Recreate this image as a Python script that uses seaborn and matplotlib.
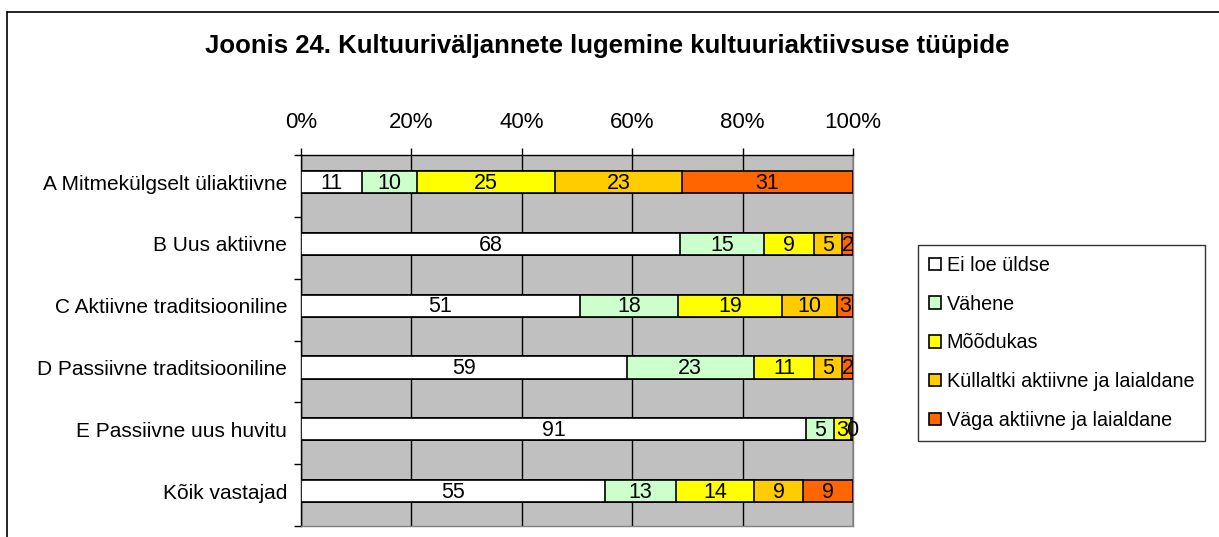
import numpy as np
import pandas as pd
import matplotlib
matplotlib.use("Agg")
import matplotlib.pyplot as plt
import seaborn as sns
from matplotlib.patches import Patch
from matplotlib.lines import Line2D
from matplotlib.ticker import FixedLocator

categories = ["A Mitmekülgselt üliaktiivne", "B Uus aktiivne", "C Aktiivne traditsiooniline",
              "D Passiivne traditsiooniline", "E Passiivne uus huvitu", "Kõik vastajad"]
ei_loe = [11, 68, 51, 59, 91, 55]
vahene = [10, 15, 18, 23, 5, 13]
moodukas = [25, 9, 19, 11, 3, 14]
kullaltki = [23, 5, 10, 5, 0.4, 9]
vaga = [31, 2, 3, 2, 0, 9]
series_names = ["Ei loe üldse", "Vähene", "Mõõdukas", "Küllaltki aktiivne ja laialdane", "Väga aktiivne ja laialdane"]
colors = ["#FFFFFF", "#CCFFCC", "#FFFF00", "#FFCC00", "#FF6600"]
xticks = [0, 20, 40, 60, 80, 100]
xticklabels = ["0%", "20%", "40%", "60%", "80%", "100%"]

sns.set_theme(style="white")
plt.rcParams["font.family"] = ["Liberation Sans", "DejaVu Sans"]
plt.rcParams["text.color"] = "black"
plt.rcParams["xtick.color"] = "black"
plt.rcParams["ytick.color"] = "black"
plt.rcParams["xtick.labelcolor"] = "black"
plt.rcParams["ytick.labelcolor"] = "black"

vals = np.array([ei_loe, vahene, moodukas, kullaltki, vaga], dtype=float)
pct = vals / vals.sum(axis=0) * 100
cum = np.cumsum(pct, axis=0)

fig = plt.figure(figsize=(12.19, 5.37), dpi=100)
ax = fig.add_axes([301/1219, 1-526/537, 552/1219, 371/537])
ax.set_facecolor("#C0C0C0")

for k in range(len(series_names) - 1, -1, -1):
    df = pd.DataFrame({"cat": categories, "v": cum[k]})
    sns.barplot(data=df, x="v", y="cat", orient="h", color=colors[k], width=0.36,
                edgecolor="black", linewidth=1.2, saturation=1, ax=ax, zorder=3)

# labels
for i in range(len(categories)):
    for k in range(len(series_names)):
        if vals[k, i] <= 0:
            continue
        left = cum[k, i] - pct[k, i]
        xc = left + pct[k, i] / 2
        ax.text(xc, i + 0.02, f"{vals[k, i]:.0f}", ha="center", va="center", fontsize=15.5,
                color="black", zorder=5)

ax.set_xlim(0, 100)
ax.set_ylim(5.563, -0.437)
ax.xaxis.tick_top()
ax.set_xticks(xticks)
ax.set_xticklabels(xticklabels, fontsize=16)
ax.xaxis.grid(True, color="black", linewidth=1)
ax.set_axisbelow(True)
ax.tick_params(axis="x", which="major", length=5, width=1, color="black", pad=11, top=True, bottom=False)
ax.set_yticks(range(len(categories)))
ax.set_yticklabels(categories, fontsize=15)
ax.yaxis.set_minor_locator(FixedLocator([-0.437 + k for k in range(7)]))
ax.tick_params(axis="y", which="major", length=0, pad=10)
ax.tick_params(axis="y", which="minor", length=5, width=1, color="black", left=True)
ax.set_xlabel("")
ax.set_ylabel("")
for s in ["left", "top"]:
    ax.spines[s].set_color("black")
    ax.spines[s].set_linewidth(1)
for s in ["right", "bottom"]:
    ax.spines[s].set_color("#808080")
    ax.spines[s].set_linewidth(1)

fig.text(607/1219, 1-46/537, "Joonis 24. Kultuuriväljannete lugemine kultuuriaktiivsuse tüüpide",
         ha="center", va="center", fontsize=18.5, fontweight="bold", color="black")

handles = [Patch(facecolor=c, edgecolor="black", linewidth=1.2) for c in colors]
leg = fig.legend(handles, series_names, loc="upper left",
                 bbox_to_anchor=(918/1219, 1-245/537), fontsize=14.2, frameon=True,
                 fancybox=False, edgecolor="black", handlelength=0.6, handleheight=0.6,
                 handletextpad=0.3, labelspacing=1.0, borderpad=0.55, borderaxespad=0)
leg.get_frame().set_linewidth(1)
for t in leg.get_texts():
    t.set_color("black")

# figure frame (top and left edges)
fig.add_artist(Line2D([7/1219, 1], [1-12/537, 1-12/537], transform=fig.transFigure,
                      color="black", linewidth=1.2))
fig.add_artist(Line2D([7/1219, 7/1219], [0, 1-12/537], transform=fig.transFigure,
                      color="black", linewidth=1.2))

fig.savefig("out.png", dpi=100)
